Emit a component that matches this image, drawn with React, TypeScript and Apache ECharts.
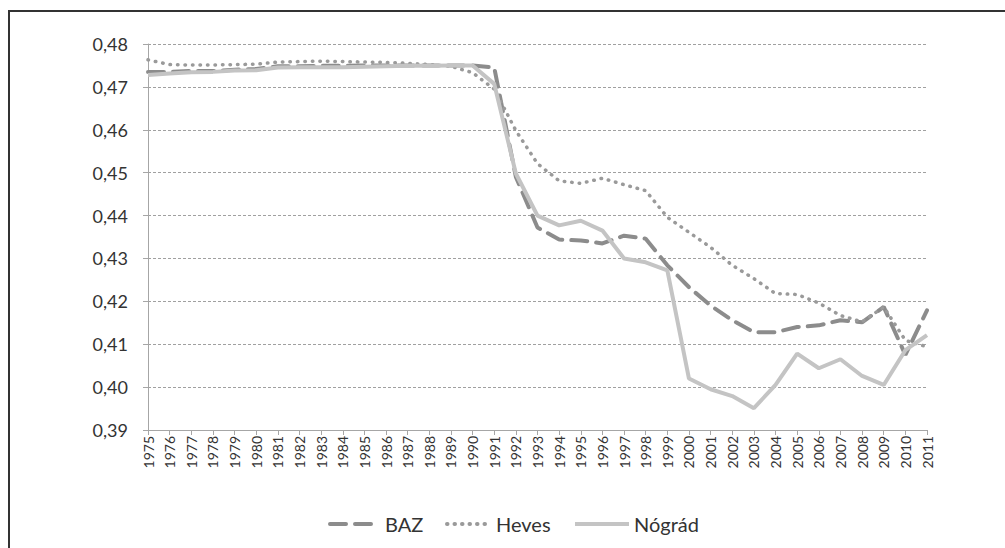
import React, { useEffect, useRef } from "react";
import * as echarts from "echarts";

const years = [
  "1975","1976","1977","1978","1979","1980","1981","1982","1983","1984",
  "1985","1986","1987","1988","1989","1990","1991","1992","1993","1994",
  "1995","1996","1997","1998","1999","2000","2001","2002","2003","2004",
  "2005","2006","2007","2008","2009","2010","2011",
];

const baz = [
  0.4735, 0.4735, 0.4737, 0.4737, 0.474, 0.4742, 0.4748, 0.4748, 0.4749, 0.4749,
  0.475, 0.475, 0.475, 0.475, 0.475, 0.475, 0.4745, 0.449, 0.4372, 0.4344,
  0.4342, 0.4335, 0.4353, 0.4346, 0.4284, 0.4233, 0.419, 0.4156, 0.4128, 0.4128,
  0.414, 0.4144, 0.4156, 0.4151, 0.4187, 0.4075, 0.4179,
];

const heves = [
  0.4763, 0.4752, 0.4751, 0.4751, 0.4752, 0.4753, 0.4758, 0.4759, 0.476, 0.4759,
  0.4758, 0.4757, 0.4755, 0.4752, 0.4748, 0.4733, 0.4695, 0.4598, 0.4521, 0.4481,
  0.4475, 0.4487, 0.4472, 0.4458, 0.4396, 0.4361, 0.4326, 0.4284, 0.4253, 0.4218,
  0.4216, 0.4196, 0.4167, 0.4152, 0.4187, 0.4109, 0.4094,
];

const nograd = [
  0.4728, 0.4731, 0.4734, 0.4735, 0.4738, 0.4739, 0.4745, 0.4746, 0.4746, 0.4746,
  0.4747, 0.4748, 0.4749, 0.4749, 0.475, 0.475, 0.4707, 0.4498, 0.44, 0.4377,
  0.4388, 0.4365, 0.43, 0.4291, 0.4272, 0.402, 0.3995, 0.3979, 0.3951, 0.4005,
  0.4078, 0.4044, 0.4065, 0.4026, 0.4005, 0.4086, 0.4121,
];

const seriesNames = ["BAZ", "Heves", "Nógrád"];

export default function App() {
  const ref = useRef<HTMLDivElement>(null);
  useEffect(() => {
    if (!ref.current) return;
    const chart = echarts.init(ref.current, undefined, { renderer: "svg" });
    const font = "Lato, 'Open Sans', sans-serif";
    const legendText = { fontFamily: font, fontSize: 20, color: "#333333" };
    const legendBase = {
      top: 509,
      itemHeight: 5,
      textStyle: legendText,
      itemStyle: { opacity: 0 },
      lineStyle: { width: 4 },
    };
    chart.setOption({
      animation: false,
      backgroundColor: "#ffffff",
      graphic: [
        {
          type: "rect",
          shape: { x: 9, y: 11, width: 1010, height: 560 },
          style: { fill: "none", stroke: "#333333", lineWidth: 2 },
          silent: true,
        },
      ],
      grid: { left: 148, right: 78, top: 44, bottom: 118 },
      legend: [
        { ...legendBase, left: 323, itemWidth: 50, data: [seriesNames[0]] },
        { ...legendBase, left: 440, itemWidth: 44, data: [seriesNames[1]] },
        { ...legendBase, left: 568, itemWidth: 54, data: [seriesNames[2]] },
      ],
      xAxis: {
        type: "category",
        data: years,
        boundaryGap: false,
        axisLine: { lineStyle: { color: "#a6a6a6", width: 1 } },
        axisTick: { show: true, length: 5, lineStyle: { color: "#a6a6a6" }, alignWithLabel: true },
        axisLabel: {
          rotate: 90,
          interval: 0,
          fontFamily: font,
          fontSize: 14,
          color: "#333333",
          margin: 6,
        },
      },
      yAxis: {
        type: "value",
        min: 0.39,
        max: 0.48,
        interval: 0.01,
        axisLine: { show: true, lineStyle: { color: "#a6a6a6", width: 1 } },
        axisTick: { show: true, length: 5, lineStyle: { color: "#a6a6a6" } },
        splitLine: { show: true, lineStyle: { color: "#a0a0a0", type: [3, 2], width: 1 } },
        axisLabel: {
          fontFamily: font,
          fontSize: 18,
          color: "#333333",
          margin: 20,
          formatter: (v: number) => v.toFixed(2).replace(".", ","),
        },
      },
      series: [
        {
          name: "BAZ",
          type: "line",
          data: baz,
          symbol: "none",
          itemStyle: { color: "#8c8c8c" },
          lineStyle: { color: "#8c8c8c", width: 4, type: [16, 9], cap: "round" },
        },
        {
          name: "Heves",
          type: "line",
          data: heves,
          symbol: "none",
          itemStyle: { color: "#9a9a9a" },
          lineStyle: { color: "#9a9a9a", width: 3.5, type: [0.5, 7], cap: "round" },
        },
        {
          name: "Nógrád",
          type: "line",
          data: nograd,
          symbol: "none",
          itemStyle: { color: "#c4c4c4" },
          lineStyle: { color: "#c4c4c4", width: 4 },
        },
      ],
    });
    return () => chart.dispose();
  }, []);
  return <div ref={ref} style={{ width: 1005, height: 548, position: "absolute", left: 0, top: 0 }} />;
}
